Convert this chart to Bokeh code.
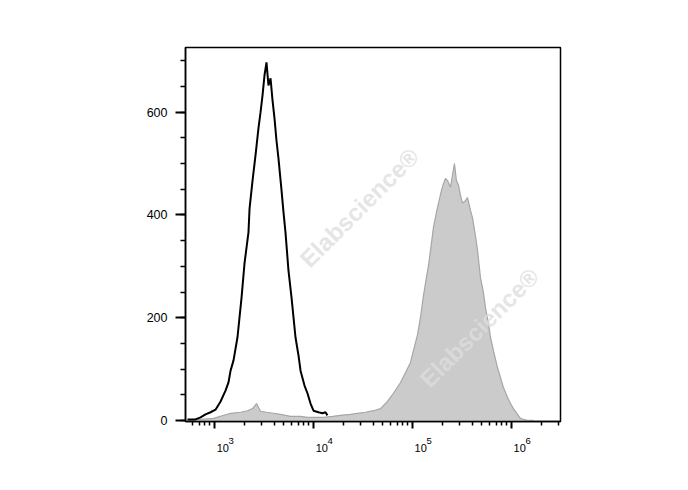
import math
from bokeh.plotting import figure
from bokeh.models import Range1d, FixedTicker, SingleIntervalTicker, Label, LogAxis
from bokeh.embed import file_html
from bokeh.resources import INLINE

# ---- data (log10 intensity, event count) ----
black_log = [2.727, 2.808, 2.859, 2.909, 2.960, 3.010, 3.061, 3.111, 3.141, 3.162,
             3.192, 3.232, 3.273, 3.303, 3.343, 3.354, 3.384, 3.414, 3.444, 3.465,
             3.485, 3.505, 3.525, 3.545, 3.566, 3.586, 3.606, 3.626, 3.646, 3.677,
             3.697, 3.717, 3.747, 3.778, 3.818, 3.848, 3.869, 3.909, 3.939, 3.970,
             4.000, 4.051, 4.091, 4.121, 4.141]
black_count = [2, 2, 6, 12, 16, 21, 37, 58, 74, 97,
               117, 162, 239, 306, 366, 413, 467, 516, 569, 600,
               633, 672, 697, 652, 666, 623, 588, 545, 510, 448,
               405, 366, 292, 239, 162, 127, 97, 68, 53, 33,
               19, 16, 14, 16, 10]

gray_log = [2.727, 2.859, 2.990, 3.162, 3.263, 3.333, 3.384, 3.424, 3.465, 3.525,
            3.596, 3.667, 3.768, 3.869, 3.939, 4.020, 4.101, 4.192, 4.273, 4.374,
            4.444, 4.525, 4.606, 4.677, 4.747, 4.808, 4.879, 4.929, 4.980, 5.010,
            5.051, 5.081, 5.111, 5.131, 5.162, 5.182, 5.212, 5.242, 5.263, 5.293,
            5.313, 5.333, 5.354, 5.384, 5.404, 5.424, 5.444, 5.465, 5.485, 5.505,
            5.535, 5.556, 5.586, 5.606, 5.636, 5.657, 5.687, 5.717, 5.737, 5.768,
            5.788, 5.818, 5.859, 5.889, 5.919, 5.960, 5.990, 6.020, 6.061, 6.091,
            6.121, 6.172, 6.222]
gray_count = [0, 2, 4, 14, 16, 19, 23, 33, 18, 16,
              14, 12, 8, 8, 6, 6, 6, 8, 10, 12,
              14, 16, 19, 23, 37, 53, 74, 93, 113, 136,
              167, 201, 243, 267, 302, 331, 376, 405, 423, 448,
              461, 471, 467, 454, 477, 500, 467, 458, 438, 423,
              428, 434, 409, 395, 360, 331, 278, 249, 220, 189,
              162, 136, 103, 84, 64, 45, 33, 23, 12, 4,
              2, 0, 0]

x_ticks = [1e3, 1e4, 1e5, 1e6]
x_tick_base = "10"
x_tick_exps = ["3", "4", "5", "6"]
y_interval = 200

black_x = [10 ** v for v in black_log]
gray_x = [10 ** v for v in gray_log]

W, H = 680, 482
BL, BR, BT, BB = 185, 120, 47, 61
Y0, Y1 = -2, 726

p = figure(width=W, height=H, x_axis_type="log",
           x_range=Range1d(509, 3.13e6), y_range=Range1d(Y0, Y1),
           output_backend="svg", toolbar_location=None,
           min_border_left=BL, min_border_right=BR,
           min_border_top=BT, min_border_bottom=BB)
p.background_fill_color = "white"
p.border_fill_color = "white"
p.outline_line_color = "black"
p.outline_line_width = 1.5
p.grid.visible = False

# ---- watermarks inside the plot box (canvas pixels, origin top-left) ----
marks = [(313, 272), (433, 392)]
for (px, py) in marks:
    p.add_layout(Label(x=px, y=py, x_units="canvas", y_units="canvas",
                       text="Elabscience®", angle=math.radians(45),
                       text_font="Liberation Sans", text_font_style="bold",
                       text_font_size="24px", text_color="#dedede", text_alpha=0.8,
                       text_baseline="bottom", text_align="left", level="overlay"))

p.varea(x=gray_x, y1=0, y2=gray_count, fill_color="#cbcbcb")
p.line(gray_x, gray_count, line_color="#a6a6a6", line_width=1.2)
p.line(black_x, black_count, line_color="black", line_width=2)

EM, EN = "\u2003", "\u2002"

# ---- x axis: ticks + raised exponents ----
xa = p.xaxis[0]
xa.ticker = FixedTicker(ticks=x_ticks,
                        minor_ticks=[m * 10 ** e for e in range(2, 7) for m in range(2, 10)])
xa.major_label_overrides = {t: EM * 3 + EN + e for t, e in zip(x_ticks, x_tick_exps)}
xa.major_label_text_font = "Liberation Sans"
xa.major_label_text_font_size = "9.5px"
xa.major_label_text_color = "black"
xa.major_label_standoff = 6
xa.axis_line_width = 1.5
xa.major_tick_out = 7
xa.major_tick_in = 0
xa.major_tick_line_width = 2
xa.minor_tick_out = 4
xa.minor_tick_in = 0
xa.minor_tick_line_width = 1.5

# second axis below it carrying the "10" bases
xb = LogAxis(ticker=FixedTicker(ticks=x_ticks, minor_ticks=[]),
             axis_line_color=None, major_tick_line_color=None, minor_tick_line_color=None,
             major_tick_out=0, major_tick_in=0, minor_tick_out=0, minor_tick_in=0,
             major_label_overrides={t: EM + EN + x_tick_base for t in x_ticks},
             major_label_text_font="Liberation Sans", major_label_text_font_size="11px",
             major_label_text_color="black", major_label_standoff=-7)
p.add_layout(xb, "below")

# ---- y axis ----
ya = p.yaxis[0]
ya.ticker = SingleIntervalTicker(interval=y_interval, num_minor_ticks=4)
ya.axis_line_width = 1.5
ya.major_tick_out = 10
ya.major_tick_in = 0
ya.major_tick_line_width = 2
ya.minor_tick_out = 5
ya.minor_tick_in = 0
ya.minor_tick_line_width = 1.5
ya.major_label_text_font = "Liberation Sans"
ya.major_label_text_font_size = "12.5px"
ya.major_label_text_color = "black"
ya.major_label_standoff = 8

open("out.html", "w").write(file_html(p, INLINE))
